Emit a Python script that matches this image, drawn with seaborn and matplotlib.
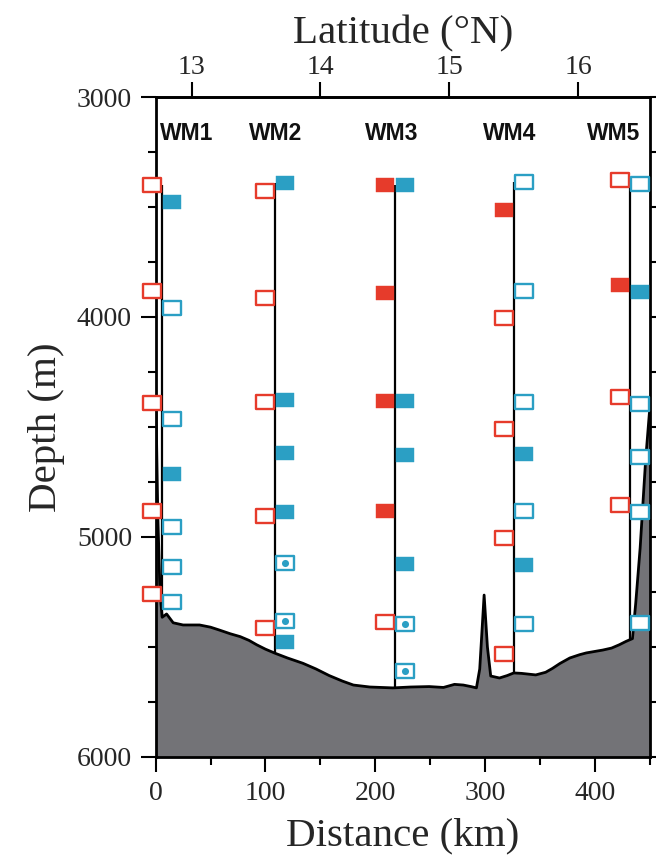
import numpy as np
import pandas as pd
import matplotlib
matplotlib.use("Agg")
import matplotlib.pyplot as plt
import seaborn as sns
from matplotlib.path import Path
from matplotlib.ticker import MultipleLocator, FixedLocator

sns.set_theme(style="ticks")
plt.rcParams["font.family"] = ["Liberation Serif", "DejaVu Serif"]

# ---- section data ---------------------------------------------------------
moorings = ["WM1", "WM2", "WM3", "WM4", "WM5"]
mooring_km = [6, 109, 218, 326, 432]
label_km = [28, 109, 215, 322, 417]

# instrument depths (m) per mooring; red column left of the line, blue right
red_open_depth = [[3400, 3880, 4390, 4880, 5260],
                  [3425, 3915, 4385, 4905, 5415],
                  [5385],
                  [4005, 4510, 5005, 5530],
                  [3375, 4365, 4855]]
red_filled_depth = [[], [], [3398, 3890, 4380, 4880], [3512], [3855]]
blue_open_depth = [[3958, 4462, 4955, 5136, 5295],
                   [],
                   [],
                   [3388, 3880, 4386, 4880, 5394],
                   [3394, 4395, 4636, 4886, 5390]]
blue_filled_depth = [[3475, 4712],
                     [3390, 4378, 4620, 4886, 5476],
                     [3398, 4380, 4629, 5121],
                     [4623, 5127],
                     [3888]]
blue_dot_depth = [[], [5120, 5383], [5394, 5610], [], []]

# bottom topography along the section
bathy_km = [0, 2, 4, 6, 10, 16, 25, 40, 50, 58, 68, 77, 85, 92, 100, 109, 120,
            134, 146, 158, 170, 180, 195, 216, 232, 249, 262, 272, 280, 287,
            292, 295, 299, 302, 305, 313, 320, 326, 333, 346, 355, 361, 368,
            377, 386, 392, 407, 415, 422, 428, 434, 437, 441, 446, 450]
bathy_depth = [4300, 4900, 5250, 5365, 5350, 5390, 5400, 5400, 5410, 5423,
               5440, 5453, 5470, 5490, 5510, 5529, 5550, 5574, 5600, 5630,
               5655, 5673, 5682, 5686, 5682, 5680, 5684, 5670, 5673, 5680,
               5686, 5600, 5264, 5500, 5632, 5641, 5630, 5618, 5620, 5627,
               5615, 5598, 5575, 5550, 5535, 5527, 5514, 5505, 5490, 5475,
               5462, 5300, 5050, 4650, 4400]

distance_ticks = [0, 100, 200, 300, 400]
depth_ticks = [3000, 4000, 5000, 6000]
latitude_ticks = [13, 14, 15, 16]

# ---- styling ------------------------------------------------------------------
RED = "#e63b2b"
BLUE = "#2b9fc4"
GREY = "#737377"
SIDE_KM = 9.0          # horizontal offset of the instrument columns

# latitude scale along the section track
KM_AT_13N = 32.7
KM_PER_DEG = 117.3


def km_to_lat(d):
    return 13.0 + (np.asarray(d, dtype=float) - KM_AT_13N) / KM_PER_DEG


def lat_to_km(lat):
    return KM_AT_13N + (np.asarray(lat, dtype=float) - 13.0) * KM_PER_DEG


def instrument_frame(depth_lists, side):
    rows = []
    for name, km, depths in zip(moorings, mooring_km, depth_lists):
        for z in depths:
            rows.append({"mooring": name, "km": km + side * SIDE_KM, "depth": z})
    return pd.DataFrame(rows, columns=["mooring", "km", "depth"])


rect = Path([(-1, -0.84), (1, -0.84), (1, 0.84), (-1, 0.84), (-1, -0.84)],
            [Path.MOVETO, Path.LINETO, Path.LINETO, Path.LINETO, Path.CLOSEPOLY])

fig = plt.figure(figsize=(6.56, 8.60), dpi=100)
fig.patch.set_facecolor("white")
ax = fig.add_axes([0.2372, 0.1198, 0.7537, 0.7674])
ax.set_facecolor("white")

# sea floor
ax.fill_between(bathy_km, bathy_depth, 6000, color=GREY, lw=0, zorder=2)
sns.lineplot(x=bathy_km, y=bathy_depth, sort=False, estimator=None,
             color="black", lw=2.0, ax=ax, zorder=3)

# mooring lines from top instrument down to the sea floor
for i, km in enumerate(mooring_km):
    all_depths = (red_open_depth[i] + red_filled_depth[i] + blue_open_depth[i]
                  + blue_filled_depth[i] + blue_dot_depth[i])
    top = min(all_depths)
    bottom = float(np.interp(km, bathy_km, bathy_depth))
    ax.vlines(km, top, bottom, color="black", lw=1.6, zorder=3)

common = dict(ax=ax, x="km", y="depth", marker=rect, zorder=6, clip_on=False,
              legend=False)
sns.scatterplot(data=instrument_frame(red_open_depth, -1), s=160,
                color="white", edgecolor=RED, linewidth=1.7, **common)
sns.scatterplot(data=instrument_frame(red_filled_depth, -1), s=150,
                color=RED, edgecolor=RED, linewidth=0.3, **common)
sns.scatterplot(data=instrument_frame(blue_open_depth, +1), s=160,
                color="white", edgecolor=BLUE, linewidth=1.7, **common)
sns.scatterplot(data=instrument_frame(blue_filled_depth, +1), s=150,
                color=BLUE, edgecolor=BLUE, linewidth=0.3, **common)
dots = instrument_frame(blue_dot_depth, +1)
sns.scatterplot(data=dots, s=160, color="white", edgecolor=BLUE,
                linewidth=1.7, **common)
sns.scatterplot(data=dots, x="km", y="depth", s=26, color=BLUE, marker="o",
                linewidth=0, ax=ax, zorder=7, clip_on=False, legend=False)

# mooring names
for name, km in zip(moorings, label_km):
    ax.text(km, 3165, name, ha="center", va="center", fontsize=16.5,
            fontweight="bold", family=["Liberation Sans", "DejaVu Sans"],
            color="#111111", zorder=8)

# axes, ticks and spines
ax.set_xlim(0, 450)
ax.set_ylim(6000, 3000)
ax.xaxis.set_major_locator(FixedLocator(distance_ticks))
ax.xaxis.set_minor_locator(MultipleLocator(50))
ax.yaxis.set_major_locator(FixedLocator(depth_ticks))
ax.yaxis.set_minor_locator(MultipleLocator(250))
ax.tick_params(which="both", direction="out", width=1.5, color="black",
               left=True, right=True, bottom=True, top=False,
               labelleft=True, labelright=False, labelbottom=True)
ax.tick_params(which="major", length=11, labelsize=20, pad=6)
ax.tick_params(which="minor", length=5.5)
ax.tick_params(axis="y", which="major", pad=6)
for sp in ax.spines.values():
    sp.set_visible(True)
    sp.set_linewidth(2.0)
    sp.set_color("black")
    sp.set_zorder(4)

ax.set_xlabel("Distance (km)", fontsize=29.5, va="center")
ax.xaxis.set_label_coords(0.5, -0.12)
ax.set_ylabel("Depth (m)", fontsize=29.5, va="center")
ax.yaxis.set_label_coords(-0.22, 0.5)

secax = ax.secondary_xaxis("top", functions=(km_to_lat, lat_to_km))
secax.xaxis.set_major_locator(FixedLocator(latitude_ticks))
secax.tick_params(direction="out", length=11, width=1.5, labelsize=20, pad=1,
                  color="black")
secax.spines["top"].set_linewidth(2.0)
secax.set_xlabel("Latitude (°N)", fontsize=29.5, va="center")
secax.xaxis.set_label_coords(0.5, 1.095, transform=ax.transAxes)

fig.savefig("out.png", dpi=100, facecolor="white")
